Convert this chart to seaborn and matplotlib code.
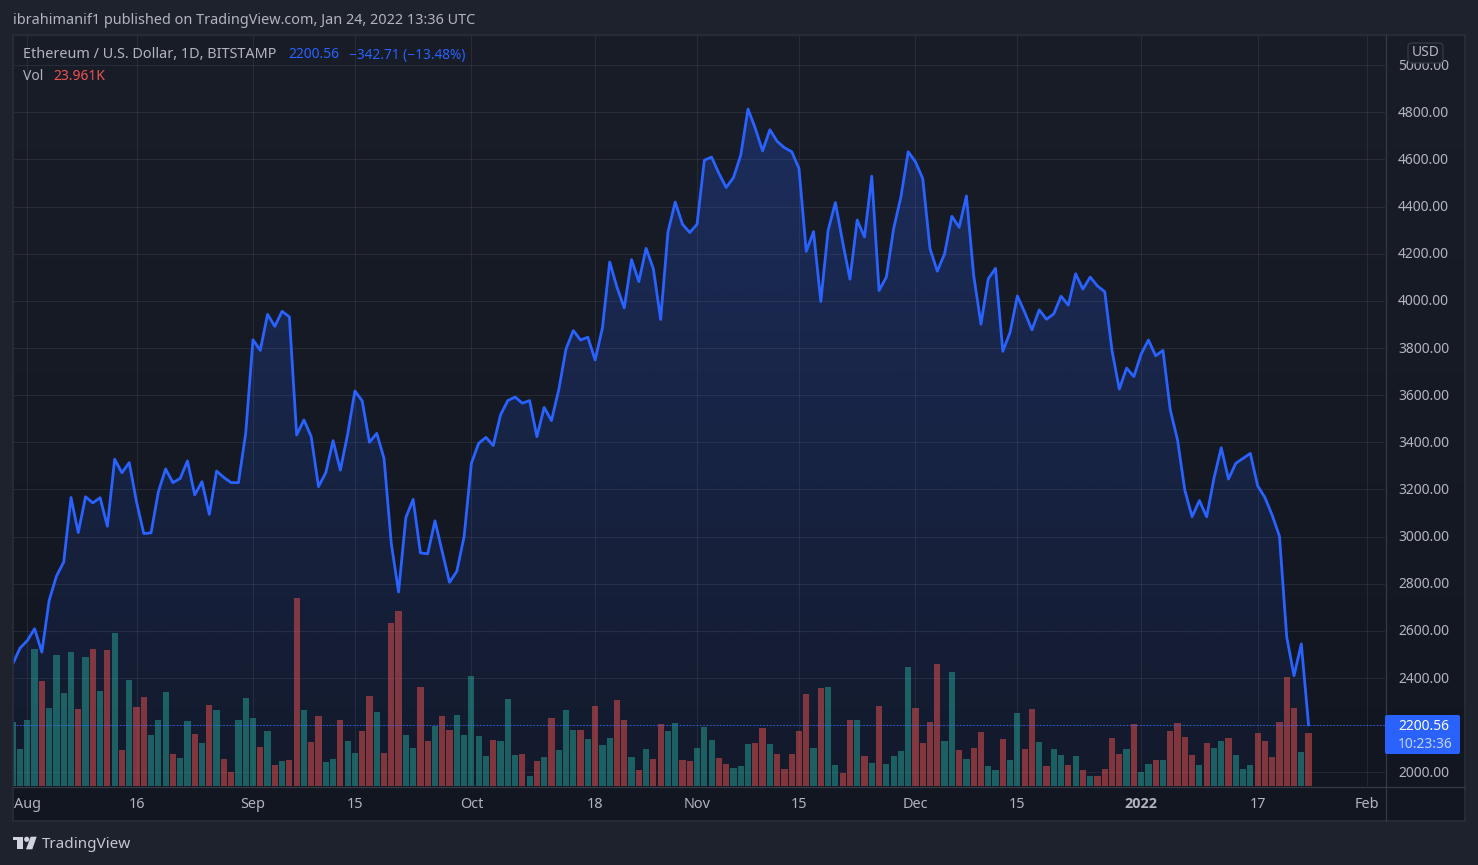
# -*- coding: utf-8 -*-
# ETH/USD daily chart (TradingView dark look) with volume bars underneath

import numpy as np
import pandas as pd
import matplotlib
matplotlib.use("Agg")
import matplotlib.pyplot as plt
import matplotlib.dates as mdates
from matplotlib.colors import LinearSegmentedColormap, to_rgb
from matplotlib.patches import Rectangle, FancyBboxPatch, Polygon, Circle
from matplotlib.transforms import Affine2D, ScaledTranslation
import seaborn as sns

# Daily closes from 2021-07-30 to 2022-01-24
close_price = [
    2460, 2527, 2559, 2609, 2510, 2729, 2832, 2892, 3166, 3017,
    3169, 3143, 3165, 3044, 3328, 3271, 3314, 3148, 3013, 3016,
    3190, 3287, 3229, 3247, 3321, 3177, 3233, 3094, 3278, 3251,
    3229, 3229, 3438, 3835, 3790, 3943, 3892, 3956, 3932, 3431,
    3495, 3424, 3212, 3271, 3407, 3282, 3434, 3618, 3576, 3400,
    3438, 3332, 2970, 2765, 3081, 3158, 2931, 2927, 3067, 2935,
    2806, 2853, 3000, 3311, 3396, 3421, 3386, 3516, 3577, 3592,
    3566, 3577, 3424, 3548, 3492, 3623, 3796, 3874, 3834, 3846,
    3749, 3885, 4165, 4058, 3970, 4175, 4082, 4223, 4136, 3921,
    4292, 4419, 4325, 4290, 4325, 4597, 4610, 4541, 4481, 4523,
    4618, 4814, 4732, 4636, 4726, 4677, 4650, 4633, 4562, 4210,
    4294, 3997, 4299, 4417, 4250, 4092, 4343, 4271, 4529, 4044,
    4101, 4306, 4441, 4633, 4590, 4519, 4221, 4126, 4200, 4359,
    4312, 4445, 4108, 3901, 4094, 4138, 3786, 3867, 4021, 3952,
    3877, 3962, 3922, 3945, 4020, 3982, 4115, 4050, 4101, 4063,
    4039, 3789, 3626, 3715, 3679, 3774, 3834, 3767, 3790, 3538,
    3410, 3197, 3084, 3153, 3084, 3247, 3377, 3244, 3311, 3332,
    3353, 3216, 3166, 3091, 3002, 2573, 2410, 2545, 2200.56,
]

# Volume in thousands, same days
volume_k = [
    28.8, 16.7, 29.7, 61.7, 47.3, 35.1, 59.0, 41.9, 60.3, 34.7,
    58.1, 61.7, 42.8, 61.2, 68.9, 16.2, 47.7, 35.6, 40.1, 23.0,
    29.7, 42.3, 14.4, 12.6, 29.3, 23.4, 19.4, 36.5, 34.2, 12.2,
    6.3, 29.7, 39.6, 30.6, 17.6, 24.8, 9.5, 11.3, 11.7, 84.6,
    34.2, 19.8, 31.5, 10.8, 12.2, 29.7, 20.3, 14.9, 24.8, 40.5,
    33.3, 14.9, 73.4, 78.8, 23.0, 17.1, 44.6, 20.3, 27.0, 31.5,
    25.2, 32.0, 23.0, 49.5, 22.5, 13.5, 20.7, 20.3, 39.2, 14.0,
    14.4, 4.5, 11.3, 13.1, 30.6, 16.2, 34.2, 25.2, 25.2, 21.2,
    36.0, 18.5, 21.6, 38.7, 29.7, 13.1, 7.2, 16.7, 12.2, 27.9,
    24.8, 28.4, 11.7, 11.3, 17.1, 26.6, 20.7, 12.6, 9.9, 8.1,
    9.0, 18.9, 19.4, 26.1, 18.9, 14.4, 7.7, 14.4, 24.8, 41.4,
    17.1, 44.1, 44.6, 9.5, 5.9, 29.7, 29.7, 13.5, 10.4, 36.0,
    9.9, 13.5, 15.8, 53.6, 35.1, 19.4, 28.8, 54.9, 20.3, 51.3,
    16.2, 12.2, 17.1, 24.3, 9.0, 7.2, 21.2, 11.7, 32.9, 16.7,
    34.7, 19.8, 9.0, 16.7, 14.0, 9.5, 13.5, 7.2, 4.5, 4.5,
    7.7, 21.6, 14.4, 16.7, 27.9, 6.3, 9.9, 11.7, 11.7, 24.8,
    28.4, 22.1, 14.0, 9.5, 19.4, 17.1, 20.3, 21.6, 14.0, 7.7,
    9.5, 23.9, 20.3, 13.1, 28.8, 49.1, 35.1, 15.3, 23.96,
]

# g = up day, r = down day
volume_dir = list(
    "ggggrggggr" "grgrgrgrrg" "ggrggrgrgr" "rgggrgrgrr"
    "grrggrggrr" "grrrggrrgr" "rgggggrggg" "rgrgrgggrg"
    "rggrrgrgrr" "ggrrgggrrg" "ggrrgrrrrr" "grggrrgrgr"
    "ggggrrrrgg" "rgrrggrggr" "rgrggrgrgr" "rrrgrggrgr"
    "rrrgrggrgg" "grrrrrrgr"
)

price_ticks = [2000, 2200, 2400, 2600, 2800, 3000, 3200, 3400, 3600, 3800,
               4000, 4200, 4400, 4600, 4800, 5000]
date_ticks = ["2021-08-01", "2021-08-16", "2021-09-01", "2021-09-15", "2021-10-01",
              "2021-10-18", "2021-11-01", "2021-11-15", "2021-12-01", "2021-12-15",
              "2022-01-01", "2022-01-17", "2022-02-01"]
date_labels = ["Aug", "16", "Sep", "15", "Oct", "18", "Nov", "15", "Dec", "15",
               "2022", "17", "Feb"]

BLUE = "#2962ff"
GREY = "#b2b5be"

sns.set_theme(style="dark")
plt.rcParams["font.family"] = ["Noto Sans", "DejaVu Sans"]

W, H = 1478, 865
fig = plt.figure(figsize=(W / 100, H / 100), dpi=100, facecolor="#1e222d")
# top-left pixel coordinates for the page furniture
px = Affine2D().scale(1, -1).translate(0, H)


def axes_at(x0, y0, x1, y1, z):
    a = fig.add_axes([x0 / W, (H - y1) / H, (x1 - x0) / W, (y1 - y0) / H], zorder=z)
    a.patch.set_alpha(0)
    for s in a.spines.values():
        s.set_visible(False)
    return a


# panel background gradient
ax_bg = axes_at(13, 35, 1465, 821, 1)
ax_bg.axis("off")
bg_cmap = LinearSegmentedColormap.from_list("bg", ["#191d28", "#121620"])
ax_bg.imshow(np.linspace(0, 1, 256)[:, None], cmap=bg_cmap, aspect="auto", extent=[0, 1, 0, 1])

ax = axes_at(13, 35, 1385, 786, 2)
ax_vol = axes_at(13, 35, 1385, 786, 3)
ax_line = axes_at(13, 35, 1385, 786, 4)

days = pd.date_range("2021-07-30", periods=len(close_price), freq="D")
x_num = mdates.date2num(days)
aug1 = mdates.date2num(pd.Timestamp("2021-08-01"))
xlim = (aug1 - 14.3 / 7.28, aug1 + 1357.7 / 7.28)
ylim = (1942, 5128)

# gradient fill under the price line
area = ax.fill_between(x_num, close_price, ylim[0], facecolor="none", linewidth=0)
rgba = np.zeros((256, 1, 4))
rgba[:, :, :3] = to_rgb(BLUE)
rgba[:, 0, 3] = np.linspace(0.25, 0.05, 256)
grad = ax.imshow(rgba, aspect="auto", zorder=1, interpolation="bilinear",
                 extent=[xlim[0], xlim[1], ylim[0], max(close_price)])
grad.set_clip_path(area.get_paths()[0], transform=ax.transData)

ax.set_xlim(xlim)
ax.set_ylim(ylim)
ax.set_xticks(mdates.date2num(pd.to_datetime(date_ticks)))
ax.set_xticklabels(date_labels, fontsize=10.4)
ax.set_yticks(price_ticks)
ax.set_yticklabels([f"{p:.2f}" for p in price_ticks])
ax.yaxis.tick_right()
ax.grid(True, color="#f0f3fa", alpha=0.08, linewidth=0.8)
ax.set_axisbelow(True)
ax.tick_params(axis="x", length=0, pad=8.2, labelcolor=GREY)
ax.tick_params(axis="y", length=0, pad=9.4, labelsize=10, labelcolor=GREY)
up_1px = ScaledTranslation(0, 1 / 100, fig.dpi_scale_trans)
for lab in ax.get_yticklabels():
    lab.set_horizontalalignment("left")
    lab.set_verticalalignment("center_baseline")
    lab.set_transform(lab.get_transform() + up_1px)
# Noto Sans has no bold cut here
year_lab = ax.get_xticklabels()[date_labels.index("2022")]
year_lab.set_fontfamily("Open Sans")
year_lab.set_fontweight("bold")

# volume bars, bottom of the pane
vol_df = pd.DataFrame({"x": x_num, "vol": volume_k, "dir": volume_dir})
sns.barplot(data=vol_df, x="x", y="vol", hue="dir", palette={"g": "#26a69a", "r": "#ef5350"},
            native_scale=True, dodge=False, width=0.85, alpha=0.5, saturation=1,
            linewidth=0, errorbar=None, legend=False, ax=ax_vol)
ax_vol.set_xlim(xlim)
ax_vol.set_ylim(0, 751 * 0.45)
ax_vol.set_axis_off()

# price line on top of everything
line_df = pd.DataFrame({"x": x_num, "close": close_price})
sns.lineplot(data=line_df, x="x", y="close", color=BLUE, linewidth=2.0, errorbar=None,
             sort=False, ax=ax_line)
ax_line.lines[0].set_solid_joinstyle("round")
ax_line.axhline(close_price[-1], color=BLUE, linestyle=(0, (1, 2)), linewidth=0.8)
ax_line.set_xlim(xlim)
ax_line.set_ylim(ylim)
ax_line.set_axis_off()

# frame and separators
fig.add_artist(Rectangle((13, 35), 1452, 786, transform=px, fill=False, edgecolor="#2a2e39",
                         linewidth=1.2, zorder=9))
fig.add_artist(plt.Line2D([13, 1465], [786.5, 786.5], transform=px, color="#363a45", linewidth=0.9, zorder=9))
fig.add_artist(plt.Line2D([1385.5, 1385.5], [35, 821], transform=px, color="#363a45", linewidth=0.9, zorder=9))


def label(x, y, s, color=GREY, size=10, **kw):
    fig.text(x, y, s, transform=px, color=color, fontsize=size, va="center", zorder=12, **kw)


# header texts
label(13, 20.5, "ibrahimanif1 published on TradingView.com, Jan 24, 2022 13:36 UTC", size=10.4)
label(23, 55, "Ethereum / U.S. Dollar, 1D, BITSTAMP", size=10.4)
label(288, 55, "2200.56", color=BLUE)
label(349, 55, "\u2212342.71 (\u221213.48%)", color=BLUE, size=9.85)
label(23, 76, "Vol")
label(53, 76, "23.961K", color="#ef5350")

# USD badge over the top price label
fig.add_artist(FancyBboxPatch((1410, 45), 31, 16, boxstyle="round,pad=2,rounding_size=4", transform=px,
                              facecolor="#191d28", edgecolor="#363a45", linewidth=0.9, zorder=11))
label(1425.5, 53, "USD", ha="center")

# last price tag
fig.add_artist(FancyBboxPatch((1385, 715), 75, 39, boxstyle="round,pad=0,rounding_size=2", transform=px,
                              facecolor=BLUE, edgecolor="none", zorder=11))
label(1398, 726, "2200.56", color="white", fontweight="medium")
label(1398, 744, "10:23:36", color="#c3d2ff")

# TradingView mark, bottom left
LOGO = "#d1d4dc"
fig.add_artist(Polygon([(13.3, 836.7), (22.7, 836.7), (22.7, 848.7), (17.3, 848.7), (17.3, 840), (13.3, 840)],
                       transform=px, facecolor=LOGO, edgecolor="none", zorder=11))
fig.add_artist(Circle((26.7, 839.3), 2.6, transform=px, facecolor=LOGO, edgecolor="none", zorder=11))
fig.add_artist(Polygon([(30.7, 836.7), (36.7, 836.7), (32.3, 849.3), (26, 849.3)],
                       transform=px, facecolor=LOGO, edgecolor="none", zorder=11))
label(42, 845, "TradingView", color="#c5c8d0", size=11)

fig.savefig("out.png", dpi=100, facecolor=fig.get_facecolor())
